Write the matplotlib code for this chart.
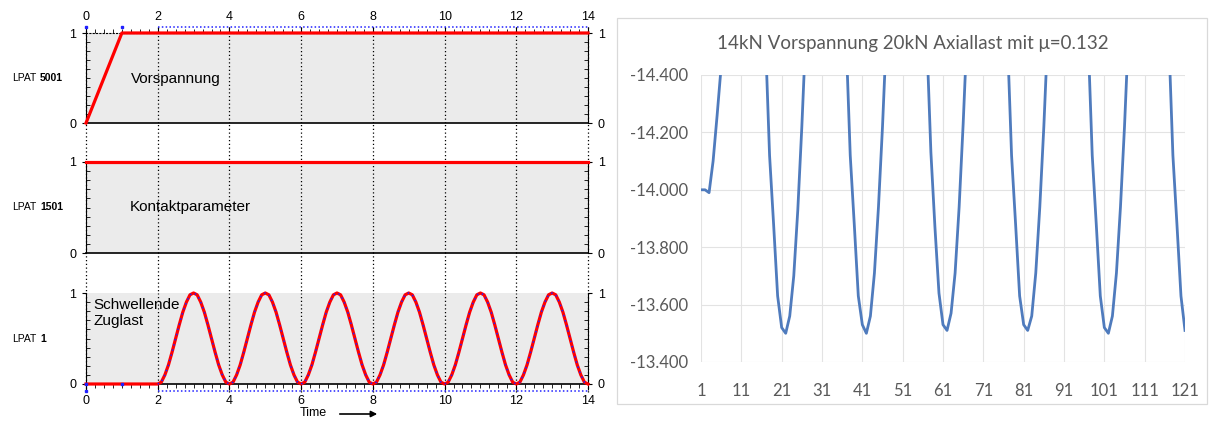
import numpy as np
import matplotlib.pyplot as plt
from matplotlib.ticker import MultipleLocator
from matplotlib.patches import Rectangle, FancyArrowPatch

plt.rcParams['font.family'] = ['Liberation Sans', 'DejaVu Sans']

# ---- left: load curves (LPAT) ----
time_ticks = [0, 2, 4, 6, 8, 10, 12, 14]

vorsp_t = [0, 1, 14]
vorsp_v = [0, 1, 1]

kontakt_t = [0, 14]
kontakt_v = [1, 1]

# swelling tensile load, sampled every 0.1 s from t=2
zug_t = [0] + list(np.round(np.arange(2.0, 14.01, 0.1), 1))
zug_v = [0,
         0, .02, .10, .21, .35, .50, .65, .79, .90, .98, 1, .98, .90, .79, .65, .50, .35, .21, .10, .02,
         0, .02, .10, .21, .35, .50, .65, .79, .90, .98, 1, .98, .90, .79, .65, .50, .35, .21, .10, .02,
         0, .02, .10, .21, .35, .50, .65, .79, .90, .98, 1, .98, .90, .79, .65, .50, .35, .21, .10, .02,
         0, .02, .10, .21, .35, .50, .65, .79, .90, .98, 1, .98, .90, .79, .65, .50, .35, .21, .10, .02,
         0, .02, .10, .21, .35, .50, .65, .79, .90, .98, 1, .98, .90, .79, .65, .50, .35, .21, .10, .02,
         0, .02, .10, .21, .35, .50, .65, .79, .90, .98, 1, .98, .90, .79, .65, .50, .35, .21, .10, .02,
         0]

lpat_ids = ['5001', '1501', '1']
panel_names = ['Vorspannung', 'Kontaktparameter', 'Schwellende\nZuglast']

# ---- right: Excel chart ----
step = np.arange(1, 122)
force = [
    -14.00, -14.00, -13.99, -14.10, -14.26, -14.43, -14.70, -14.95, -15.15, -15.30,
    -15.38, -15.38, -15.30, -15.15, -14.95, -14.75, -14.52, -14.12, -13.88, -13.63,
    -13.52, -13.50, -13.56, -13.70, -13.93, -14.22, -14.55, -14.85, -15.10, -15.28,
    -15.38, -15.40, -15.35, -15.20, -15.00, -14.78, -14.52, -14.12, -13.88, -13.63,
    -13.53, -13.50, -13.56, -13.71, -13.94, -14.22, -14.55, -14.86, -15.10, -15.28,
    -15.38, -15.40, -15.35, -15.20, -15.00, -14.78, -14.52, -14.13, -13.87, -13.64,
    -13.53, -13.51, -13.57, -13.71, -13.94, -14.23, -14.56, -14.86, -15.10, -15.28,
    -15.38, -15.40, -15.35, -15.20, -15.00, -14.78, -14.52, -14.12, -13.88, -13.63,
    -13.53, -13.51, -13.56, -13.71, -13.94, -14.22, -14.55, -14.86, -15.10, -15.28,
    -15.38, -15.40, -15.35, -15.20, -15.00, -14.78, -14.52, -14.12, -13.88, -13.63,
    -13.52, -13.50, -13.56, -13.71, -13.94, -14.22, -14.55, -14.86, -15.10, -15.28,
    -15.38, -15.40, -15.35, -15.20, -15.00, -14.78, -14.52, -14.12, -13.88, -13.63,
    -13.51]
force_ticks = [-14.4, -14.2, -14.0, -13.8, -13.6, -13.4]
step_ticks = [1, 11, 21, 31, 41, 51, 61, 71, 81, 91, 101, 111, 121]
title = '14kN Vorspannung 20kN Axiallast mit \u03bc=0.132'

W, H = 1210, 421
fig = plt.figure(figsize=(W / 100, H / 100), dpi=100)


def box(x0, y0, x1, y1):
    # pixel box -> figure fraction rect
    return [x0 / W, 1 - y1 / H, (x1 - x0) / W, (y1 - y0) / H]


dots = (0, (1, 2))
blue = '#2020ff'
red = '#ff0000'

# dotted verticals running through the whole left column
bg = fig.add_axes(box(86, 27, 588, 392))
bg.set_xlim(0, 14)
bg.set_ylim(0, 1)
bg.axis('off')
bg.vlines(time_ticks, 0, 1, colors='k', linestyles=dots, lw=0.9, clip_on=False)

rects = [box(86, 33, 588, 123), box(86, 162, 588, 253), box(86, 293, 588, 384)]
axes = [fig.add_axes(r) for r in rects]

for k, ax in enumerate(axes):
    ax.set_xlim(0, 14)
    ax.set_ylim(0, 1)
    ax.set_facecolor('#ebebeb')
    ax.set_xticks(time_ticks)
    ax.xaxis.set_minor_locator(MultipleLocator(0.25))
    ax.set_yticks([0, 1])
    ax.set_yticklabels(['0', '1'])
    ax.yaxis.set_minor_locator(MultipleLocator(0.1))
    ax.grid(axis='x', which='major', color='k', ls=dots, lw=0.9)
    ax.tick_params(axis='y', which='both', left=True, right=True,
                   labelleft=True, labelright=True, labelsize=9)
    ax.tick_params(axis='y', which='major', direction='out', length=3, pad=4)
    ax.tick_params(axis='y', which='minor', direction='in', length=3, width=0.6)
    ax.tick_params(axis='x', which='both', bottom=False, top=False,
                   labelbottom=False, labeltop=False, labelsize=9)
    for s in ['left', 'right']:
        ax.spines[s].set_linewidth(0.8)
    ax.spines['bottom'].set_linewidth(1.2)
    ax.spines['top'].set_visible(False)
    yc = rects[k][1] + rects[k][3] / 2
    fig.text(12 / W, yc, 'LPAT', fontsize=7.5, va='center')
    fig.text(40 / W, yc, lpat_ids[k], fontsize=7.5, fontweight='bold',
             va='center')

ax1, ax2, ax3 = axes
ax1.spines['top'].set_visible(True)
ax1.spines['top'].set_linestyle(dots)
ax1.tick_params(axis='x', which='both', top=True, labeltop=True,
                direction='out', pad=3.5)
ax1.tick_params(axis='x', which='major', length=4)
ax1.tick_params(axis='x', which='minor', length=3, width=0.6)
ax3.tick_params(axis='x', which='both', bottom=True, labelbottom=True,
                direction='out', pad=4)
ax3.tick_params(axis='x', which='major', length=4)
ax3.tick_params(axis='x', which='minor', length=3, width=0.6)

ax1.plot(vorsp_t, vorsp_v, color=red, lw=2.3, clip_on=False, zorder=5)
ax2.plot(kontakt_t, kontakt_v, color=red, lw=2.3, clip_on=False, zorder=5)
ax3.plot(zug_t, zug_v, color=red, lw=2.3, clip_on=False, zorder=5)
ax3.plot(zug_t[1:], zug_v[1:], color=blue, ls=(0, (1, 2.5)), lw=1.1,
         zorder=6, clip_on=False)
ax3.plot([0, 1], [0, 0], 's', color=blue, ms=1.5, zorder=6, clip_on=False)

# blue dotted guide lines outside the frame
ax1.plot([2, 14], [1.07, 1.07], color=blue, ls=(0, (1, 1.5)), lw=1.1,
         clip_on=False)
ax1.plot([0, 1], [1.07, 1.07], 's', color=blue, ms=1.5, clip_on=False)
ax3.plot([2, 14], [-0.08, -0.08], color=blue, ls=(0, (1, 1.5)), lw=1.1,
         clip_on=False)
ax3.plot([0], [-0.08], 's', color=blue, ms=1.5, clip_on=False)

ax1.text(1.25, 0.49, panel_names[0], fontsize=11, va='center')
ax2.text(1.23, 0.5, panel_names[1], fontsize=11, va='center')
ax3.text(0.2, 0.95, panel_names[2], fontsize=11, va='top', linespacing=1.25)

fig.text(300 / W, 1 - 413 / H, 'Time', fontsize=9, va='center')
fig.add_artist(FancyArrowPatch((337 / W, 1 - 414 / H), (380 / W, 1 - 414 / H),
                               transform=fig.transFigure, arrowstyle='-|>',
                               mutation_scale=9, lw=1.2, color='k'))

# ---- right chart ----
gray = '#595959'
fig.add_artist(Rectangle((617 / W, 1 - 404 / H), (1207 - 617) / W, (404 - 18) / H,
                         transform=fig.transFigure, fill=False,
                         ec='#d9d9d9', lw=0.9))
axr = fig.add_axes(box(701, 75, 1185, 362))
axr.plot(step, force, color='#4f7bbd', lw=2.0)
axr.set_xlim(1, 121)
axr.set_ylim(-13.4, -14.4)
axr.set_yticks(force_ticks)
axr.set_yticklabels([f'{v:.3f}' for v in force_ticks])
axr.set_xticks(step_ticks)
axr.set_xticklabels([str(s) for s in step_ticks])
axr.grid(True, color='#e3e3e3', lw=0.8)
axr.set_axisbelow(True)
for s in axr.spines.values():
    s.set_visible(False)
axr.tick_params(length=0, colors=gray, labelsize=12)
axr.tick_params(axis='y', pad=9)
axr.tick_params(axis='x', pad=15)
for lab in axr.get_xticklabels() + axr.get_yticklabels():
    lab.set_family(['Lato', 'DejaVu Sans'])
fig.text(913 / W, 1 - 44 / H, title, fontsize=13.5, color=gray, ha='center',
         va='center', family=['Lato', 'DejaVu Sans'])

fig.savefig('out.png', dpi=100)
